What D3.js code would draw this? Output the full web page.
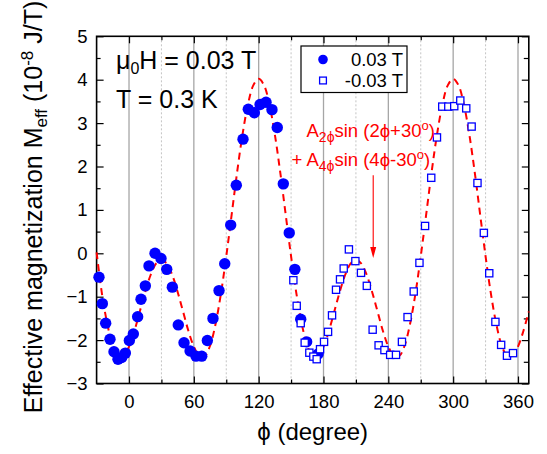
<!DOCTYPE html>
<html>
<head>
<meta charset="utf-8">
<script src="https://cdn.jsdelivr.net/npm/d3@7"></script>
<style>
  body { margin: 0; background: #fff; }
  svg { display: block; font-family: "Liberation Sans", Arial, sans-serif; }
</style>
</head>
<body>
<div id="chart"></div>
<script>
// 0.03 T (filled circles)
const posPhi = [-27.8, -24.7, -21.6, -17.6, -13.9, -10.2, -6.8, -3.4, 0.3, 4.0,
  8.0, 11.1, 15.1, 18.5, 24.1, 29.6, 34.9, 40.1, 45.6, 50.9,
  56.5, 62.0, 67.3, 72.5, 77.7, 83.3, 88.6, 94.1, 99.3, 105.5,
  110.4, 116.0, 121.3, 126.8, 132.3, 137.2, 142.8, 148.3, 153.5, 158.9,
  164.4, 175.0];
const posM = [-0.55, -1.16, -1.61, -1.98, -2.27, -2.44, -2.40, -2.30, -2.01, -1.86,
  -1.46, -1.06, -0.75, -0.29, 0.00, -0.12, -0.37, -0.78, -1.65, -2.06,
  -2.25, -2.37, -2.37, -2.01, -1.50, -0.86, -0.24, 0.65, 1.57, 2.63,
  3.32, 3.24, 3.43, 3.48, 3.31, 2.90, 1.60, 0.47, -0.37, -1.52,
  -2.04, -2.32];

// -0.03 T (open squares)
const negPhi = [152.1, 155.2, 158.9, 162.6, 166.9, 170.6, 173.7, 176.8, 180.5, 184.2,
  187.9, 191.6, 195.3, 198.7, 203.5, 209.5, 214.7, 220.1, 225.5, 231.0,
  236.4, 241.7, 247.1, 252.6, 257.8, 263.5, 268.8, 274.0, 279.7, 285.0,
  289.9, 295.5, 301.0, 306.6, 312.1, 317.1, 322.5, 328.4, 333.4, 339.1,
  344.4, 349.8, 355.4];
const negM = [-0.62, -1.21, -1.61, -2.06, -2.29, -2.38, -2.44, -2.21, -2.04, -1.81,
  -1.43, -0.84, -0.60, -0.35, 0.09, -0.18, -0.45, -0.75, -1.76, -2.12,
  -2.23, -2.34, -2.34, -2.04, -1.47, -0.88, -0.22, 0.63, 1.74, 2.67,
  3.38, 3.38, 3.39, 3.52, 3.34, 2.92, 1.62, 0.47, -0.46, -1.58,
  -2.11, -2.36, -2.30];

// fit curve, read every 5 degrees from -30 to 370
const fitPhi = d3.range(-30, 371, 5);
const fitM = [0.02, -0.94, -1.64, -2.13, -2.37, -2.36,
  -2.15, -1.79, -1.34, -0.89, -0.50, -0.24, -0.15, -0.24, -0.50, -0.89, -1.34, -1.79,
  -2.15, -2.36, -2.37, -2.13, -1.64, -0.94, -0.07, 0.89, 1.86, 2.73, 3.42, 3.87,
  4.02, 3.87, 3.42, 2.73, 1.86, 0.89, -0.07, -0.94, -1.64, -2.13, -2.37, -2.36,
  -2.15, -1.79, -1.34, -0.89, -0.50, -0.24, -0.15, -0.24, -0.50, -0.89, -1.34, -1.79,
  -2.15, -2.36, -2.37, -2.13, -1.64, -0.94, -0.07, 0.89, 1.86, 2.73, 3.42, 3.87,
  4.02, 3.87, 3.42, 2.73, 1.86, 0.89, -0.07, -0.94, -1.64, -2.13, -2.37, -2.36,
  -2.15, -1.79, -1.34];

const xTicks = [0, 60, 120, 180, 240, 300, 360];
const xMinor = [30, 90, 150, 210, 270, 330];
const yTicks = [-3, -2, -1, 0, 1, 2, 3, 4, 5];
const yMinor = [-2.5, -1.5, -0.5, 0.5, 1.5, 2.5, 3.5, 4.5];

const W = 547, H = 454;
const margin = { top: 36.3, right: 18.2, bottom: 70.5, left: 96.6 };
const width = W - margin.left - margin.right,
    height = H - margin.top - margin.bottom;

let x = d3.scaleLinear().domain([-30, 370]).range([0, width]);
let y = d3.scaleLinear().domain([-3, 5]).range([height, 0]);

let svg = d3.select('#chart').append('svg')
    .attr('width', W)
    .attr('height', H);

svg.append('rect').attr('width', W).attr('height', H).attr('fill', '#fff');

let main = svg.append('g')
    .attr('transform', 'translate(' + margin.left + ',' + margin.top + ')');

// vertical grid
main.selectAll('.gmaj').data(xTicks).enter().append('line')
    .attr('x1', d => x(d)).attr('x2', d => x(d))
    .attr('y1', 0).attr('y2', height)
    .attr('stroke', '#a6a6a6').attr('stroke-width', 1.3);
main.selectAll('.gmin').data(xMinor).enter().append('line')
    .attr('x1', d => x(d)).attr('x2', d => x(d))
    .attr('y1', 0).attr('y2', height)
    .attr('stroke', '#c4c4c4').attr('stroke-width', 1)
    .attr('stroke-dasharray', '2,2');

// axes, ticks pointing inwards
function styleAxis(g) {
    g.select('.domain').remove();
    g.selectAll('line').attr('stroke', '#000').attr('stroke-width', 1.2);
    g.selectAll('text').attr('font-size', 18.5).attr('fill', '#000')
        .attr('font-family', '"Liberation Sans", Arial, sans-serif');
}

main.append('g').attr('transform', 'translate(0,' + height + ')')
    .call(d3.axisBottom(x).tickValues(xTicks).tickSizeInner(-7).tickSizeOuter(0).tickPadding(11))
    .call(styleAxis);
main.append('g').attr('transform', 'translate(0,' + height + ')')
    .call(d3.axisBottom(x).tickValues(xMinor).tickSizeInner(-4).tickSizeOuter(0).tickFormat(''))
    .call(styleAxis);
main.append('g')
    .call(d3.axisTop(x).tickValues(xTicks).tickSizeInner(-7).tickSizeOuter(0).tickFormat(''))
    .call(styleAxis);
main.append('g')
    .call(d3.axisTop(x).tickValues(xMinor).tickSizeInner(-4).tickSizeOuter(0).tickFormat(''))
    .call(styleAxis);

main.append('g')
    .call(d3.axisLeft(y).tickValues(yTicks).tickSizeInner(-7).tickSizeOuter(0).tickPadding(9))
    .call(styleAxis);
main.append('g')
    .call(d3.axisLeft(y).tickValues(yMinor).tickSizeInner(-4).tickSizeOuter(0).tickFormat(''))
    .call(styleAxis);
main.append('g').attr('transform', 'translate(' + width + ',0)')
    .call(d3.axisRight(y).tickValues(yTicks).tickSizeInner(-7).tickSizeOuter(0).tickFormat(''))
    .call(styleAxis);
main.append('g').attr('transform', 'translate(' + width + ',0)')
    .call(d3.axisRight(y).tickValues(yMinor).tickSizeInner(-5).tickSizeOuter(0).tickFormat(''))
    .call(styleAxis);

// frame
main.append('rect')
    .attr('width', width).attr('height', height)
    .attr('fill', 'none').attr('stroke', '#000').attr('stroke-width', 1.6);

// fit curve
let line = d3.line()
    .x((d, i) => x(fitPhi[i]))
    .y(d => y(d))
    .curve(d3.curveCatmullRom);

main.append('path')
    .datum(fitM)
    .attr('d', line)
    .attr('fill', 'none')
    .attr('stroke', '#ff0000')
    .attr('stroke-width', 2)
    .attr('stroke-dasharray', '7,5');

// 0.03 T points
main.append('g').selectAll('circle').data(posPhi).enter().append('circle')
    .attr('cx', d => x(d))
    .attr('cy', (d, i) => y(posM[i]))
    .attr('r', 5.7)
    .attr('fill', '#0000ff');

// -0.03 T points
const sq = 7.2;
main.append('g').selectAll('rect').data(negPhi).enter().append('rect')
    .attr('x', d => x(d) - sq / 2)
    .attr('y', (d, i) => y(negM[i]) - sq / 2)
    .attr('width', sq).attr('height', sq)
    .attr('fill', '#fff')
    .attr('stroke', '#0000ff')
    .attr('stroke-width', 1.3);

// legend
let leg = svg.append('g').attr('transform', 'translate(301,46)');
leg.append('rect').attr('width', 106).attr('height', 46.5)
    .attr('fill', '#fff').attr('stroke', '#000').attr('stroke-width', 1.2);
leg.append('circle').attr('cx', 22).attr('cy', 13.5).attr('r', 4.8).attr('fill', '#0000ff');
leg.append('rect').attr('x', 22 - 3.4).attr('y', 34.5 - 3.4).attr('width', 6.8).attr('height', 6.8)
    .attr('fill', '#fff').attr('stroke', '#0000ff').attr('stroke-width', 1.3);
leg.append('text').attr('x', 102).attr('y', 19.5).attr('text-anchor', 'end')
    .attr('font-size', 18.5).text('0.03 T');
leg.append('text').attr('x', 102).attr('y', 40.5).attr('text-anchor', 'end')
    .attr('font-size', 18.5).text('-0.03 T');

// field / temperature labels
let t1 = svg.append('text').attr('x', 116).attr('y', 69).attr('font-size', 25);
t1.append('tspan').text('\u03bc');
t1.append('tspan').attr('dy', 5).attr('font-size', 16).text('0');
t1.append('tspan').attr('dy', -5).text('H = 0.03 T');
svg.append('text').attr('x', 116).attr('y', 108).attr('font-size', 25).text('T = 0.3 K');

// fit formula annotation
let a1 = svg.append('text').attr('x', 306.5).attr('y', 137).attr('font-size', 18.5).attr('fill', '#ff0000');
a1.append('tspan').text('A');
a1.append('tspan').attr('dy', 5).attr('font-size', 14).text('2\u03d5');
a1.append('tspan').attr('dy', -5).text('sin (2\u03d5+30');
a1.append('tspan').attr('dy', -7).attr('font-size', 13).text('o');
a1.append('tspan').attr('dy', 7).text(')');

let a2 = svg.append('text').attr('x', 291.5).attr('y', 166).attr('font-size', 18.5).attr('fill', '#ff0000');
a2.append('tspan').text('+ A');
a2.append('tspan').attr('dy', 5).attr('font-size', 14).text('4\u03d5');
a2.append('tspan').attr('dy', -5).text('sin (4\u03d5-30');
a2.append('tspan').attr('dy', -7).attr('font-size', 13).text('o');
a2.append('tspan').attr('dy', 7).text(')');

// arrow
const arrowPhi = 226, arrowFrom = 1.80, arrowTo = -0.11;
main.append('line')
    .attr('x1', x(arrowPhi)).attr('x2', x(arrowPhi))
    .attr('y1', y(arrowFrom)).attr('y2', y(arrowTo) - 8)
    .attr('stroke', '#ff0000').attr('stroke-width', 1.1);
main.append('path')
    .attr('d', 'M' + (x(arrowPhi) - 3) + ',' + (y(arrowTo) - 11) +
        'L' + (x(arrowPhi) + 3) + ',' + (y(arrowTo) - 11) +
        'L' + x(arrowPhi) + ',' + y(arrowTo) + 'Z')
    .attr('fill', '#ff0000');

// axis titles
let xt = svg.append('text')
    .attr('x', margin.left + width / 2).attr('y', 440)
    .attr('text-anchor', 'middle').attr('font-size', 24);
xt.append('tspan').text('\u03d5 (degree)');

let yt = svg.append('text')
    .attr('transform', 'translate(42,207) rotate(-90)')
    .attr('text-anchor', 'middle').attr('font-size', 25);
yt.append('tspan').text('Effective magnetization M');
yt.append('tspan').attr('dy', 5).attr('font-size', 17).text('eff');
yt.append('tspan').attr('dy', -5).text(' (10');
yt.append('tspan').attr('dy', -9).attr('font-size', 17).text('-8');
yt.append('tspan').attr('dy', 9).text(' J/T)');
</script>
</body>
</html>
